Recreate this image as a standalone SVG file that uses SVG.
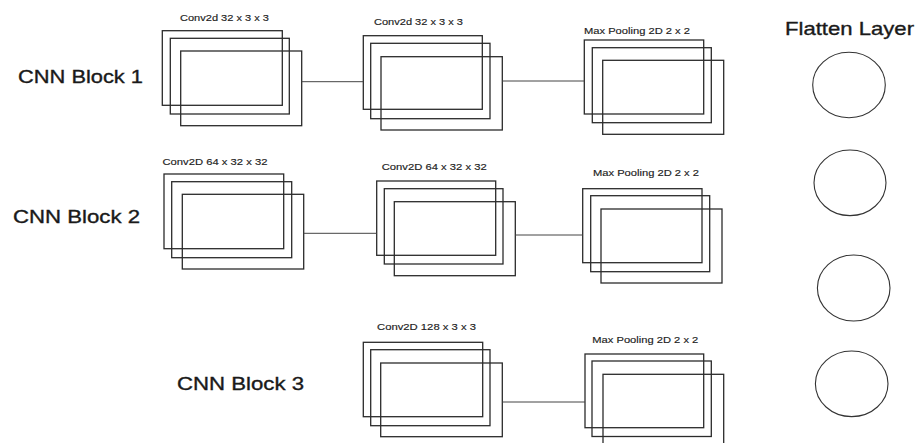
<svg xmlns="http://www.w3.org/2000/svg" width="918" height="443" viewBox="0 0 918 443">
<style>
.r{fill:none;stroke:#2b2b2b;stroke-width:1.3}
.c{fill:none;stroke:#444;stroke-width:1}
.e{stroke:#333;stroke-width:1.1;fill:none}
.s{font-family:"Liberation Sans",Arial,sans-serif;font-size:9.6px;fill:#222;stroke:#222;stroke-width:0.15}
.b{font-family:"Liberation Sans",Arial,sans-serif;font-size:18.5px;fill:#1a1a1a;stroke:#1a1a1a;stroke-width:0.35}
</style>
<rect width="918" height="443" fill="#fff"/>
<g id="labels">
<text class="b" x="18" y="83" textLength="125" lengthAdjust="spacingAndGlyphs">CNN Block 1</text>
<text class="b" x="13" y="223" textLength="127" lengthAdjust="spacingAndGlyphs">CNN Block 2</text>
<text class="b" x="177" y="390" textLength="127" lengthAdjust="spacingAndGlyphs">CNN Block 3</text>
<text class="b" x="785" y="35" textLength="129" lengthAdjust="spacingAndGlyphs">Flatten Layer</text>
</g>
<g id="b1-conv1">
<text class="s" x="180" y="20.5" textLength="89" lengthAdjust="spacingAndGlyphs">Conv2d 32 x 3 x 3</text>
<rect class="r" x="162.3" y="30.7" width="120" height="74.6"/>
<rect class="r" x="170.3" y="38.3" width="119" height="75.7"/>
<rect class="r" x="180.7" y="51" width="121" height="74.7"/>
</g>
<g id="b1-conv2">
<text class="s" x="374" y="25" textLength="89" lengthAdjust="spacingAndGlyphs">Conv2d 32 x 3 x 3</text>
<rect class="r" x="363.3" y="35.7" width="119" height="73.6"/>
<rect class="r" x="370.7" y="43.3" width="119.3" height="75.4"/>
<rect class="r" x="381" y="56.7" width="121.3" height="73.3"/>
</g>
<g id="b1-pool">
<text class="s" x="584" y="34" textLength="106" lengthAdjust="spacingAndGlyphs">Max Pooling 2D 2 x 2</text>
<rect class="r" x="584.3" y="40" width="119.4" height="74"/>
<rect class="r" x="592.3" y="47.7" width="119" height="75"/>
<rect class="r" x="602.7" y="60.3" width="121" height="74"/>
</g>
<g id="b2-conv1">
<text class="s" x="162.5" y="165" textLength="105" lengthAdjust="spacingAndGlyphs">Conv2D 64 x 32 x 32</text>
<rect class="r" x="164" y="174" width="119.7" height="74.7"/>
<rect class="r" x="171.7" y="181.7" width="120" height="76"/>
<rect class="r" x="182.3" y="194.3" width="121.4" height="74.7"/>
</g>
<g id="b2-conv2">
<text class="s" x="381.7" y="170" textLength="105" lengthAdjust="spacingAndGlyphs">Conv2D 64 x 32 x 32</text>
<rect class="r" x="376.7" y="181" width="119" height="74.3"/>
<rect class="r" x="384.3" y="188.7" width="118.7" height="75.3"/>
<rect class="r" x="394.3" y="201.7" width="121" height="74"/>
</g>
<g id="b2-pool">
<text class="s" x="593" y="175.7" textLength="106" lengthAdjust="spacingAndGlyphs">Max Pooling 2D 2 x 2</text>
<rect class="r" x="582.7" y="188.7" width="119.3" height="74"/>
<rect class="r" x="590.7" y="195.7" width="119" height="76"/>
<rect class="r" x="601" y="209" width="121" height="74"/>
</g>
<g id="b3-conv">
<text class="s" x="377" y="330" textLength="99" lengthAdjust="spacingAndGlyphs">Conv2D 128 x 3 x 3</text>
<rect class="r" x="363.3" y="342.3" width="119.4" height="74.4"/>
<rect class="r" x="370.7" y="349.7" width="119.3" height="76"/>
<rect class="r" x="380.7" y="363" width="121.6" height="73.7"/>
</g>
<g id="b3-pool">
<text class="s" x="592.3" y="343" textLength="106" lengthAdjust="spacingAndGlyphs">Max Pooling 2D 2 x 2</text>
<rect class="r" x="585" y="354" width="118.7" height="73.7"/>
<rect class="r" x="592" y="361" width="119.3" height="75.5"/>
<rect class="r" x="603" y="374.3" width="120.7" height="74"/>
</g>
<g id="flatten">
<ellipse class="e" cx="849" cy="85" rx="36.3" ry="32.7"/>
<ellipse class="e" cx="850" cy="182.8" rx="36" ry="32.8"/>
<ellipse class="e" cx="853.7" cy="288" rx="36.3" ry="33"/>
<ellipse class="e" cx="851.7" cy="383.8" rx="36.3" ry="32.8"/>
</g>
<g id="connectors">
<line class="c" x1="301.7" y1="81.7" x2="363.3" y2="81.7"/>
<line class="c" x1="502.3" y1="81" x2="584.3" y2="81"/>
<line class="c" x1="303.7" y1="233.3" x2="376.7" y2="233.3"/>
<line class="c" x1="515.3" y1="235" x2="582.7" y2="235"/>
<line class="c" x1="502.3" y1="402" x2="585" y2="402"/>
</g>
</svg>
